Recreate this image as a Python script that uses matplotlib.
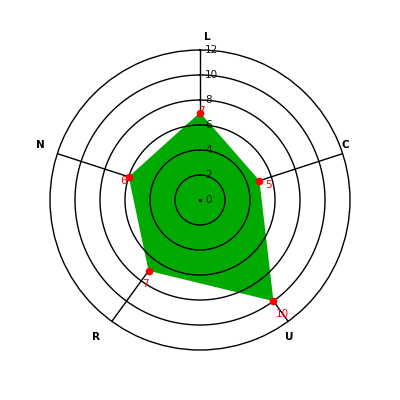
import numpy as np
import matplotlib

matplotlib.use("Agg")
import matplotlib.pyplot as plt

CATEGORIES = ["L", "C", "U", "R", "N"]
VALUES = [7, 5, 10, 7, 6]
RING_LEVELS = [2, 4, 6, 8, 10]
TICK_LEVELS = [0, 2, 4, 6, 8, 10, 12]
R_MAX = 12

GREEN = "#00AA00"
RED = "#FF0000"
INK = "#111111"

# pixel nudges for labels (dx, dy), dy points up
CATEGORY_OFFSETS = [(7, 13), (3, 9), (1, -16), (-16, -16), (-17, 9)]
VALUE_OFFSETS = [(1, 1), (9, -4), (9, -13), (-3, -13), (-5, -4)]

fig = plt.figure(figsize=(4, 4), dpi=100, facecolor="white")
ax = fig.add_axes([0.125, 0.125, 0.75, 0.75], projection="polar")
ax.set_theta_offset(np.pi / 2)
ax.set_theta_direction(-1)
ax.set_ylim(0, R_MAX)
ax.grid(False)
ax.set_xticks([])
ax.set_yticks([])
ax.spines["polar"].set_color("black")
ax.spines["polar"].set_linewidth(1)

angles = np.linspace(0, 2 * np.pi, len(CATEGORIES), endpoint=False)

# spokes sit under the filled area
for angle in angles:
    ax.plot([angle, angle], [0, R_MAX], color="black", linewidth=1, zorder=1)

closed_angles = np.append(angles, angles[0])
closed_values = VALUES + VALUES[:1]
ax.fill(closed_angles, closed_values, color=GREEN, linewidth=0, zorder=2)

# rings drawn over the fill
ring_theta = np.linspace(0, 2 * np.pi, 361)
for level in RING_LEVELS:
    ax.plot(ring_theta, np.full_like(ring_theta, level), color="black", linewidth=1, zorder=3)

ax.plot([0], [0], marker="o", markersize=1.5, color=INK, zorder=4)

for level in TICK_LEVELS:
    ax.annotate(
        str(level),
        xy=(0, level),
        xytext=(5, 0),
        textcoords="offset pixels",
        ha="left",
        va="center",
        fontsize=7.5,
        color=INK,
        zorder=6,
        annotation_clip=False,
    )

ax.plot(angles, VALUES, linestyle="none", marker="o", markersize=4.5, color=RED, zorder=5)

for angle, value, (dx, dy) in zip(angles, VALUES, VALUE_OFFSETS):
    ax.annotate(
        str(value),
        xy=(angle, value),
        xytext=(dx, dy),
        textcoords="offset pixels",
        ha="center",
        va="center",
        fontsize=7.5,
        color=RED,
        zorder=7,
        annotation_clip=False,
    )

for angle, name, (dx, dy) in zip(angles, CATEGORIES, CATEGORY_OFFSETS):
    ax.annotate(
        name,
        xy=(angle, R_MAX),
        xytext=(dx, dy),
        textcoords="offset pixels",
        ha="center",
        va="center",
        fontsize=7.5,
        fontweight="bold",
        color="black",
        annotation_clip=False,
    )

fig.savefig("out.png", dpi=100, facecolor="white")
